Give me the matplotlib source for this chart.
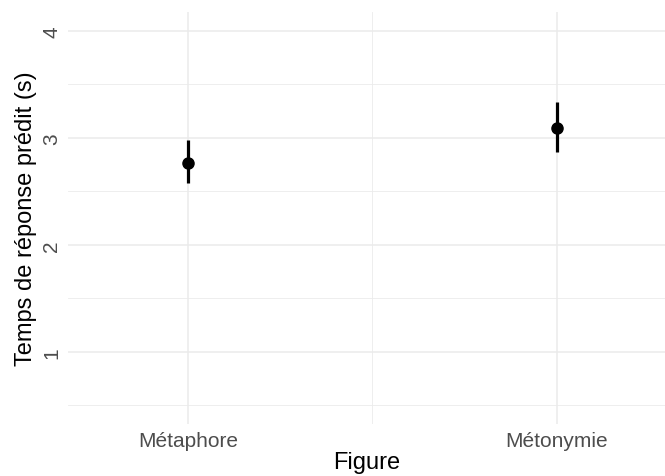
import matplotlib.pyplot as plt
from matplotlib.ticker import MultipleLocator

plt.rcParams['font.family'] = ['Liberation Sans', 'DejaVu Sans']

# Predicted response time per figure type, with interval bounds
figures = ['Métaphore', 'Métonymie']
predicted = [2.77, 3.09]
lower = [2.58, 2.87]
upper = [2.98, 3.34]

fig = plt.figure(figsize=(6.65, 4.77), dpi=100)
ax = fig.add_axes([0.1023, 0.109, 0.8977, 0.8637])

x = list(range(1, len(figures) + 1))
yerr = [[p - l for p, l in zip(predicted, lower)],
        [u - p for p, u in zip(predicted, upper)]]
ax.errorbar(x, predicted, yerr=yerr, fmt='o', color='black',
            markersize=8, elinewidth=2.3, capsize=0, zorder=3)

ax.set_xlim(0.675, 2.293)
ax.set_ylim(0.324, 4.178)
ax.set_xticks(x)
ax.set_xticklabels(figures)
ax.xaxis.set_minor_locator(MultipleLocator(0.5))
ax.yaxis.set_major_locator(MultipleLocator(1))
ax.yaxis.set_minor_locator(MultipleLocator(0.5))

# minimal theme: light grid, no frame, no tick marks
for s in ax.spines.values():
    s.set_visible(False)
ax.grid(which='major', color='#EBEBEB', linewidth=1.1)
ax.grid(which='minor', color='#EBEBEB', linewidth=0.6)
ax.set_axisbelow(True)
ax.tick_params(which='both', length=0)
ax.tick_params(axis='x', labelsize=15, labelcolor='#4D4D4D', pad=5)
ax.tick_params(axis='y', labelsize=15, labelcolor='#4D4D4D', pad=5)
for lab in ax.get_yticklabels():
    lab.set_rotation(90)
    lab.set_va('center')

ax.set_xlabel('Figure', fontsize=17, labelpad=1)
ax.set_ylabel('Temps de réponse prédit (s)', fontsize=17, labelpad=4)

fig.savefig('out.png', dpi=100)
